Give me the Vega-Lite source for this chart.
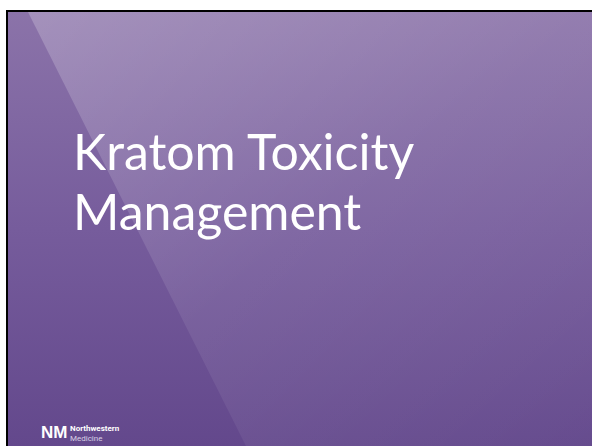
{
  "$schema": "https://vega.github.io/schema/vega-lite/v6.json",
  "width": 592,
  "height": 446,
  "padding": 0,
  "autosize": {"type": "none"},
  "background": "white",
  "config": {"view": {"stroke": null}},
  "datasets": {
    "frame": [{"x": 6, "x2": 592, "y": 10, "y2": 446}],
    "panel": [{"x": 8, "x2": 592, "y": 12, "y2": 446}],
    "shine": [{"y": 12, "x": 28, "x2": 592}, {"y": 446, "x": 246, "x2": 592}],
    "title": [{"text": "Kratom Toxicity", "x": 73, "y": 170}, {"text": "Management", "x": 73, "y": 230}],
    "brand1": [{"text": "Northwestern", "x": 70, "y": 431}],
    "brand2": [{"text": "Medicine", "x": 70, "y": 440.5}],
    "mark": [{"text": "NM", "x": 41, "y": 438}]
  },
  "layer": [
    {
      "data": {"name": "frame"},
      "mark": {"type": "rect", "fill": "black"},
      "encoding": {
        "x": {"field": "x", "type": "quantitative", "scale": {"domain": [0, 592], "nice": false, "zero": false}, "axis": null},
        "x2": {"field": "x2"},
        "y": {"field": "y", "type": "quantitative", "scale": {"domain": [0, 446], "nice": false, "zero": false, "reverse": true}, "axis": null},
        "y2": {"field": "y2"}
      }
    },
    {
      "data": {"name": "panel"},
      "mark": {"type": "rect", "fill": {"gradient": "linear", "x1": 0, "y1": 0, "x2": 0, "y2": 1, "stops": [{"offset": 0, "color": "#8b73a9"}, {"offset": 0.5, "color": "#765c9c"}, {"offset": 1, "color": "#63488c"}]}},
      "encoding": {
        "x": {"field": "x", "type": "quantitative", "scale": {"domain": [0, 592], "nice": false, "zero": false}, "axis": null},
        "x2": {"field": "x2"},
        "y": {"field": "y", "type": "quantitative", "scale": {"domain": [0, 446], "nice": false, "zero": false, "reverse": true}, "axis": null},
        "y2": {"field": "y2"}
      }
    },
    {
      "data": {"name": "shine"},
      "mark": {"type": "area", "orient": "horizontal", "fill": {"gradient": "linear", "x1": 0, "y1": 0, "x2": 1, "y2": 1, "stops": [{"offset": 0, "color": "rgba(255,255,255,0.22)"}, {"offset": 0.5, "color": "rgba(255,255,255,0.08)"}, {"offset": 1, "color": "rgba(255,255,255,0.02)"}]}},
      "encoding": {
        "y": {"field": "y", "type": "quantitative", "scale": {"domain": [0, 446], "nice": false, "zero": false, "reverse": true}, "axis": null},
        "x": {"field": "x", "type": "quantitative", "scale": {"domain": [0, 592], "nice": false, "zero": false}, "axis": null},
        "x2": {"field": "x2"}
      }
    },
    {
      "data": {"name": "title"},
      "mark": {"type": "text", "align": "left", "baseline": "alphabetic", "font": "Lato", "fontSize": 50, "color": "white"},
      "encoding": {
        "x": {"field": "x", "type": "quantitative", "scale": {"domain": [0, 592], "nice": false, "zero": false}, "axis": null},
        "y": {"field": "y", "type": "quantitative", "scale": {"domain": [0, 446], "nice": false, "zero": false, "reverse": true}, "axis": null},
        "text": {"field": "text"}
      }
    },
    {
      "data": {"name": "brand1"},
      "mark": {"type": "text", "align": "left", "baseline": "alphabetic", "font": "Roboto", "fontSize": 8, "fontWeight": "bold", "color": "white"},
      "encoding": {
        "x": {"field": "x", "type": "quantitative", "scale": {"domain": [0, 592], "nice": false, "zero": false}, "axis": null},
        "y": {"field": "y", "type": "quantitative", "scale": {"domain": [0, 446], "nice": false, "zero": false, "reverse": true}, "axis": null},
        "text": {"field": "text"}
      }
    },
    {
      "data": {"name": "brand2"},
      "mark": {"type": "text", "align": "left", "baseline": "alphabetic", "font": "Roboto", "fontSize": 8, "color": "#d8d0e4"},
      "encoding": {
        "x": {"field": "x", "type": "quantitative", "scale": {"domain": [0, 592], "nice": false, "zero": false}, "axis": null},
        "y": {"field": "y", "type": "quantitative", "scale": {"domain": [0, 446], "nice": false, "zero": false, "reverse": true}, "axis": null},
        "text": {"field": "text"}
      }
    },
    {
      "data": {"name": "mark"},
      "mark": {"type": "text", "align": "left", "baseline": "alphabetic", "font": "Liberation Sans", "fontSize": 17, "fontWeight": "bold", "color": "white"},
      "encoding": {
        "x": {"field": "x", "type": "quantitative", "scale": {"domain": [0, 592], "nice": false, "zero": false}, "axis": null},
        "y": {"field": "y", "type": "quantitative", "scale": {"domain": [0, 446], "nice": false, "zero": false, "reverse": true}, "axis": null},
        "text": {"field": "text"}
      }
    }
  ]
}
